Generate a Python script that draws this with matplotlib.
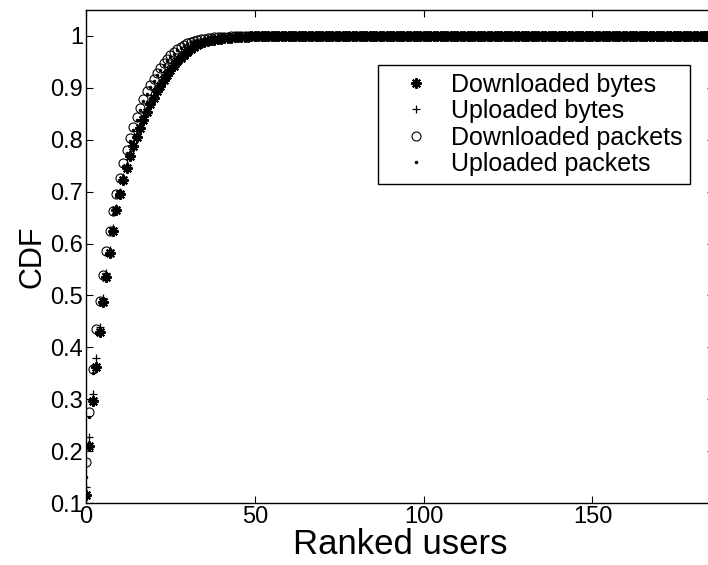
import numpy as np
import matplotlib.pyplot as plt

plt.rcParams['font.family'] = ['Liberation Sans', 'DejaVu Sans']

n_users = 187

# CDF values for the top-ranked users; the rest sit at 1
dl_bytes = [0.115, 0.209, 0.297, 0.363, 0.430, 0.487, 0.536, 0.581, 0.625, 0.665,
            0.695, 0.722, 0.746, 0.768, 0.788, 0.806, 0.823, 0.839, 0.854, 0.868,
            0.881, 0.893, 0.904, 0.915, 0.925, 0.934, 0.943, 0.951, 0.958, 0.964,
            0.970, 0.975, 0.979, 0.983, 0.986, 0.988, 0.990, 0.992, 0.993, 0.994,
            0.995, 0.996, 0.9965, 0.997, 0.9975, 0.998, 0.998, 0.9985, 0.9985, 0.999,
            0.999, 0.9993, 0.9995, 0.9997, 0.9998]
ul_bytes = [0.130, 0.227, 0.310, 0.380, 0.440, 0.495, 0.543, 0.588, 0.630, 0.668,
            0.700, 0.728, 0.752, 0.774, 0.794, 0.812, 0.829, 0.845, 0.859, 0.873,
            0.885, 0.897, 0.908, 0.918, 0.928, 0.937, 0.945, 0.953, 0.960, 0.966,
            0.971, 0.976, 0.980, 0.984, 0.987, 0.989, 0.991, 0.992, 0.993, 0.994,
            0.995, 0.996, 0.9965, 0.997, 0.9975, 0.998, 0.998, 0.9985, 0.9985, 0.999,
            0.999, 0.9993, 0.9995, 0.9997, 0.9998]
dl_packets = [0.180, 0.275, 0.358, 0.435, 0.490, 0.540, 0.585, 0.625, 0.662, 0.696,
              0.727, 0.755, 0.780, 0.803, 0.824, 0.844, 0.862, 0.878, 0.893, 0.906,
              0.918, 0.929, 0.939, 0.948, 0.956, 0.963, 0.969, 0.974, 0.979, 0.983,
              0.986, 0.989, 0.991, 0.993, 0.994, 0.995, 0.996, 0.997, 0.9975, 0.998,
              0.998, 0.9985, 0.9985, 0.999, 0.999, 0.9993, 0.9995, 0.9997, 0.9998, 0.9999]
ul_packets = [0.150, 0.265, 0.350, 0.428, 0.485, 0.535, 0.580, 0.620, 0.657, 0.691,
              0.722, 0.750, 0.775, 0.798, 0.819, 0.839, 0.857, 0.874, 0.889, 0.902,
              0.914, 0.925, 0.935, 0.944, 0.952, 0.960, 0.966, 0.972, 0.977, 0.981,
              0.985, 0.988, 0.990, 0.992, 0.993, 0.994, 0.995, 0.996, 0.997, 0.9975,
              0.998, 0.998, 0.9985, 0.9985, 0.999, 0.999, 0.9993, 0.9995, 0.9997, 0.9998]

series = [
    (dl_bytes, 'Downloaded bytes', dict(marker=(8, 2, 0), ms=7.5, mew=1.5)),
    (ul_bytes, 'Uploaded bytes', dict(marker='+', ms=6, mew=0.9)),
    (dl_packets, 'Downloaded packets', dict(marker='o', ms=6.5, mew=0.8, mfc='none')),
    (ul_packets, 'Uploaded packets', dict(marker='.', ms=3)),
]

fig = plt.figure(figsize=(7.08, 5.65), dpi=100)
# axes end just past the right edge of the figure, so the right spine is cut off
ax = fig.add_axes([0.1215, 0.1097, 0.887, 0.8726])

for vals, label, style in series:
    y = np.array(vals + [1.0] * (n_users - len(vals)))
    x = np.arange(n_users)
    ax.plot(x, y, linestyle='none', color='black', mec='black', label=label, **style)

ax.set_xlim(0, n_users - 1)
ax.set_ylim(0.1, 1.05)
ax.set_xticks([0, 50, 100, 150])
ax.set_yticks(np.round(np.arange(0.1, 1.01, 0.1), 1))
ax.set_yticklabels(['0.1', '0.2', '0.3', '0.4', '0.5', '0.6', '0.7', '0.8', '0.9', '1'])
ax.tick_params(direction='in', top=True, right=True, length=5, width=0.8,
               labelsize=17, pad=2)
for s in ax.spines.values():
    s.set_linewidth(1.0)

ax.set_xlabel('Ranked users', fontsize=25, labelpad=0)
ax.set_ylabel('CDF', fontsize=22, labelpad=2)

leg = ax.legend(loc='upper right', bbox_to_anchor=(0.962, 0.888), fontsize=18,
                frameon=True, fancybox=False, framealpha=1, edgecolor='black',
                labelspacing=0.1, handlelength=2.44, handletextpad=0.18,
                borderpad=0.3, borderaxespad=0, numpoints=1)
leg.get_frame().set_linewidth(1.0)

fig.savefig('out.png', dpi=100)
